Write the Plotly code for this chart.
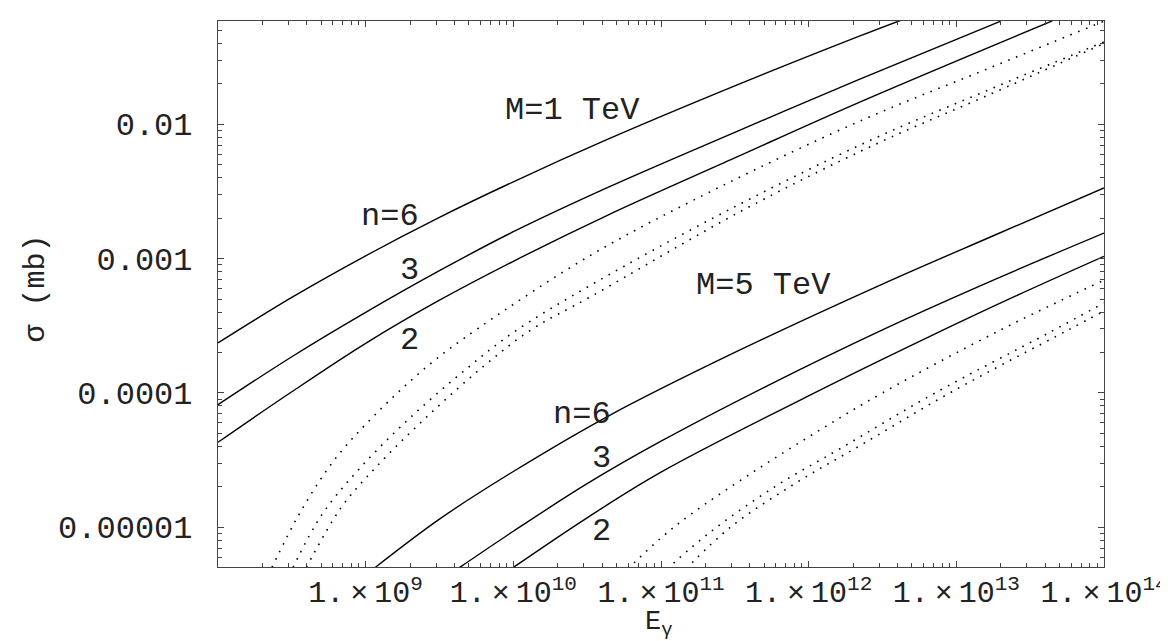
import plotly.graph_objects as go

# photon energy E_gamma and cross section sigma (mb)
# M = 1 TeV, solid curves
E_m1_n6 = [1.0e8, 3.16e8, 1.0e9, 3.16e9, 1.0e10, 4.37e10, 3.16e11, 2.16e12, 4.17e12]
sig_m1_n6 = [2.36e-4, 5.15e-4, 1.05e-3, 2.03e-3, 3.73e-3, 7.74e-3, 1.93e-2, 4.49e-2, 5.92e-2]
E_m1_n3 = [1.0e8, 3.16e8, 1.0e9, 3.16e9, 1.0e10, 4.37e10, 3.16e11, 2.16e12, 2.0e13]
sig_m1_n3 = [8.17e-5, 1.86e-4, 3.98e-4, 8.13e-4, 1.585e-3, 3.39e-3, 8.71e-3, 2.14e-2, 5.86e-2]
E_m1_n2 = [1.0e8, 3.16e8, 1.0e9, 3.16e9, 1.0e10, 4.37e10, 3.16e11, 2.16e12, 4.47e13]
sig_m1_n2 = [4.29e-5, 1.02e-4, 2.34e-4, 4.90e-4, 9.55e-4, 2.11e-3, 5.62e-3, 1.445e-2, 5.89e-2]

# M = 1 TeV, dotted curves
E_m1_d1 = [2.32e8, 3.53e8, 6.04e8, 1.16e9, 2.69e9, 5.82e9, 3.39e10, 2.51e11, 2.33e12, 1.585e13, 1.0e14]
sig_m1_d1 = [5.02e-6, 1.24e-5, 3.10e-5, 6.89e-5, 1.62e-4, 3.04e-4, 1.07e-3, 3.42e-3, 1.08e-2, 2.56e-2, 5.86e-2]
E_m1_d2 = [3.22e8, 5.05e8, 9.16e8, 1.99e9, 4.88e9, 1.0e10, 3.39e10, 2.82e11, 2.52e12, 1.585e13, 1.0e14]
sig_m1_d2 = [5.02e-6, 1.24e-5, 2.76e-5, 6.50e-5, 1.53e-4, 2.82e-4, 6.40e-4, 2.28e-3, 7.46e-3, 1.77e-2, 4.10e-2]
E_m1_d3 = [3.97e8, 6.79e8, 1.16e9, 2.69e9, 6.31e9, 1.32e10, 3.39e10, 3.55e11, 2.80e12, 1.585e13, 1.0e14]
sig_m1_d3 = [5.02e-6, 1.39e-5, 2.76e-5, 6.89e-5, 1.585e-4, 2.95e-4, 5.25e-4, 2.28e-3, 7.05e-3, 1.62e-2, 3.99e-2]

# M = 5 TeV, solid curves
E_m5_n6 = [1.16e9, 3.16e9, 1.0e10, 4.37e10, 3.16e11, 3.16e12, 1.78e13, 1.0e14]
sig_m5_n6 = [5.02e-6, 1.15e-5, 2.60e-5, 6.70e-5, 2.0e-4, 6.46e-4, 1.48e-3, 3.36e-3]
E_m5_n3 = [4.33e9, 1.0e10, 3.16e10, 1.0e11, 5.16e11, 3.16e12, 1.78e13, 1.0e14]
sig_m5_n3 = [5.02e-6, 9.33e-6, 2.11e-5, 4.37e-5, 1.12e-4, 2.95e-4, 6.92e-4, 1.55e-3]
E_m5_n2 = [1.0e10, 3.16e10, 1.0e11, 1.28e12, 6.31e12, 2.51e13, 1.0e14]
sig_m5_n2 = [5.02e-6, 1.175e-5, 2.57e-5, 1.09e-4, 2.57e-4, 5.25e-4, 1.04e-3]

# M = 5 TeV, dotted curves
E_m5_d1 = [5.96e10, 1.0e11, 1.585e11, 4.47e11, 1.26e12, 3.16e12, 2.0e13, 1.0e14]
sig_m5_d1 = [4.90e-6, 8.32e-6, 1.245e-5, 2.69e-5, 5.50e-5, 1.0e-4, 2.95e-4, 6.92e-4]
E_m5_d2 = [1.10e11, 2.19e11, 5.89e11, 1.66e12, 6.92e12, 4.27e13, 1.0e14]
sig_m5_d2 = [4.90e-6, 9.33e-6, 2.0e-5, 3.89e-5, 9.77e-5, 2.82e-4, 4.68e-4]
E_m5_d3 = [1.48e11, 2.95e11, 7.94e11, 2.24e12, 9.33e12, 5.75e13, 1.0e14]
sig_m5_d3 = [4.90e-6, 1.0e-5, 2.09e-5, 4.07e-5, 1.02e-4, 2.95e-4, 4.07e-4]

# axis ticks
x_tick_exp = [9, 10, 11, 12, 13, 14]
y_tick_vals = [1e-2, 1e-3, 1e-4, 1e-5]
y_tick_text = ["0.01", "0.001", "0.0001", "0.00001"]

FONT = "Liberation Mono"
INK = "#222222"
FRAME = "#444444"

solid = [(E_m1_n6, sig_m1_n6), (E_m1_n3, sig_m1_n3), (E_m1_n2, sig_m1_n2),
         (E_m5_n6, sig_m5_n6), (E_m5_n3, sig_m5_n3), (E_m5_n2, sig_m5_n2)]
dotted = [(E_m1_d1, sig_m1_d1), (E_m1_d2, sig_m1_d2), (E_m1_d3, sig_m1_d3),
          (E_m5_d1, sig_m5_d1), (E_m5_d2, sig_m5_d2), (E_m5_d3, sig_m5_d3)]

fig = go.Figure()
for xs, ys in solid:
    fig.add_trace(go.Scatter(x=xs, y=ys, mode="lines", line_shape="spline",
                             line=dict(color="black", width=1.4),
                             showlegend=False, hoverinfo="skip"))
for xs, ys in dotted:
    fig.add_trace(go.Scatter(x=xs, y=ys, mode="lines", line_shape="spline",
                             line=dict(color="black", width=1.6, dash="1.6px,6.8px"),
                             showlegend=False, hoverinfo="skip"))

x_minor = [k * 10 ** d for d in range(8, 14) for k in range(2, 10)]
y_minor = [k * 10 ** d for d in range(-6, -1) for k in range(2, 10)]

fig.update_xaxes(
    type="log", range=[8, 14],
    tickmode="array", tickvals=[10 ** e for e in x_tick_exp],
    ticktext=["1.\u2009\u00d7\u200910<sup>%d</sup>" % e for e in x_tick_exp],
    ticks="inside", ticklen=6, tickwidth=1, tickcolor=FRAME,
    minor=dict(tickmode="array", tickvals=x_minor, ticks="inside", ticklen=3.5,
               tickwidth=1, tickcolor=FRAME, showgrid=False),
    showline=True, linecolor=FRAME, linewidth=1.2, mirror="allticks",
    showgrid=False, zeroline=False, ticklabelstandoff=-2,
    tickfont=dict(family=FONT, size=30, color=INK),
)
fig.update_yaxes(
    type="log", range=[-5.296, -1.231],
    tickmode="array", tickvals=y_tick_vals, ticktext=y_tick_text,
    ticks="inside", ticklen=6, tickwidth=1, tickcolor=FRAME,
    minor=dict(tickmode="array", tickvals=y_minor, ticks="inside", ticklen=3.5,
               tickwidth=1, tickcolor=FRAME, showgrid=False),
    showline=True, linecolor=FRAME, linewidth=1.2, mirror="allticks",
    showgrid=False, zeroline=False, ticklabelstandoff=18,
    tickfont=dict(family=FONT, size=32, color=INK),
)

# curve labels (x, y given as log10 of the axis values)
labels = [("M=1 TeV", 10.404, -1.898), ("n=6", 9.168, -2.683),
          ("3", 9.300, -3.085), ("2", 9.300, -3.606),
          ("M=5 TeV", 11.697, -3.197), ("n=6", 10.465, -4.163),
          ("3", 10.600, -4.491), ("2", 10.600, -5.035)]
for txt, lx, ly in labels:
    fig.add_annotation(x=lx, y=ly, xref="x", yref="y", text=txt, showarrow=False,
                       xanchor="center", yanchor="middle",
                       font=dict(family=FONT, size=32, color=INK))

# axis titles
fig.add_annotation(x=-0.2065, y=0.51, xref="paper", yref="paper",
                   text="\u03c3 (mb)", textangle=-90, showarrow=False,
                   xanchor="center", yanchor="middle",
                   font=dict(family=FONT, size=30, color=INK))
fig.add_annotation(x=0.4977, y=-0.104, xref="paper", yref="paper",
                   text="E<sub>\u03b3</sub>", showarrow=False,
                   xanchor="center", yanchor="middle",
                   font=dict(family=FONT, size=27, color=INK))

fig.update_layout(
    width=1168, height=641,
    margin=dict(l=210, r=72, t=13, b=82, autoexpand=False),
    plot_bgcolor="white", paper_bgcolor="white",
    showlegend=False,
)

fig.write_html("out.html")
